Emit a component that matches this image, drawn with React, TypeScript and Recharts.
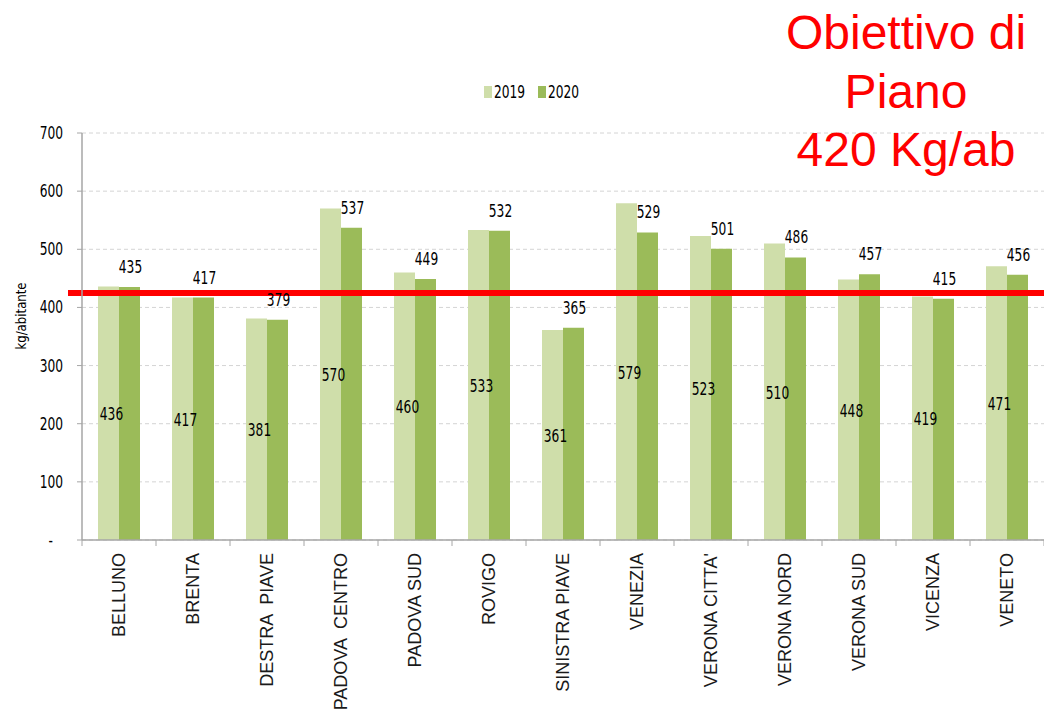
import { BarChart, Bar, XAxis, YAxis, CartesianGrid, Legend, LabelList, ReferenceLine } from "recharts";

const categories = [
  "BELLUNO",
  "BRENTA",
  "DESTRA  PIAVE",
  "PADOVA  CENTRO",
  "PADOVA SUD",
  "ROVIGO",
  "SINISTRA PIAVE",
  "VENEZIA",
  "VERONA CITTA'",
  "VERONA NORD",
  "VERONA SUD",
  "VICENZA",
  "VENETO",
];
const values2019 = [436, 417, 381, 570, 460, 533, 361, 579, 523, 510, 448, 419, 471];
const values2020 = [435, 417, 379, 537, 449, 532, 365, 529, 501, 486, 457, 415, 456];
const yTicks = [0, 100, 200, 300, 400, 500, 600, 700];
const target = 425;
const titleLines = ["Obiettivo di", "Piano", "420 Kg/ab"];

const series = [
  { key: "y2019", name: "2019", color: "#cfdeaa" },
  { key: "y2020", name: "2020", color: "#9bbb59" },
];

const data = categories.map((c, i) => ({ name: c, y2019: values2019[i], y2020: values2020[i] }));

const W = 1044;
const H = 712;
const AXIS_X = 82;
const BAND = (W - AXIS_X) / categories.length;
const ARIAL = "'Liberation Sans', Arial, sans-serif";

// Excel's narrow number font: DejaVu Sans squeezed horizontally
function NarrowText({ x, y, anchor = "middle", children }: any) {
  return (
    <text
      transform={`translate(${x},${y}) scale(0.72,1)`}
      textAnchor={anchor}
      fontFamily="'DejaVu Sans', sans-serif"
      fontSize={17}
      fill="#000"
    >
      {children}
    </text>
  );
}

function XTick({ x, y, payload, index }: any) {
  return (
    <g>
      {index === 0 && <line x1={x - BAND / 2} y1={y} x2={x - BAND / 2} y2={y + 6} stroke="#a6a6a6" />}
      <line x1={x + BAND / 2} y1={y} x2={x + BAND / 2} y2={y + 6} stroke="#a6a6a6" />
      <text
        x={0}
        y={0}
        transform={`translate(${x + 6},${y + 13}) rotate(-90)`}
        textAnchor="end"
        fontFamily={ARIAL}
        fontSize={18}
        fill="#1a1a1a"
        style={{ whiteSpace: "pre" }}
      >
        {payload.value}
      </text>
    </g>
  );
}

function YTick({ x, y, payload }: any) {
  const isZero = payload.value === 0;
  return (
    <NarrowText x={isZero ? x - 10 : x} y={y + 6} anchor="end">
      {isZero ? "-" : payload.value}
    </NarrowText>
  );
}

function Label2019(p: any) {
  return (
    <NarrowText x={p.x + p.width / 2 + 3} y={p.y + p.height / 2 + 7}>
      {p.value}
    </NarrowText>
  );
}

function Label2020(p: any) {
  return (
    <NarrowText x={p.x + p.width / 2 + 1} y={p.y - 14}>
      {p.value}
    </NarrowText>
  );
}

function LegendBox() {
  return (
    <svg width={100} height={20}>
      <rect x={0} y={4} width={8} height={12} fill={series[0].color} />
      <NarrowText x={10} y={16} anchor="start">
        {series[0].name}
      </NarrowText>
      <rect x={54} y={4} width={8} height={12} fill={series[1].color} />
      <NarrowText x={64} y={16} anchor="start">
        {series[1].name}
      </NarrowText>
    </svg>
  );
}

export default function App() {
  return (
    <div style={{ position: "relative", width: W, height: H, background: "#fff" }}>
      <style>{"body{margin:0}"}</style>
      <BarChart width={W} height={H} data={data} margin={{ top: 133, right: 0, left: 0, bottom: 0 }} barGap={0}>
        <CartesianGrid vertical={false} stroke="#d4d4d4" strokeDasharray="4 3" />
        <XAxis
          dataKey="name"
          interval={0}
          height={H - 540}
          tick={<XTick />}
          tickLine={false}
          tickSize={0}
          tickMargin={0}
          axisLine={{ stroke: "#a6a6a6", strokeWidth: 1.5 }}
        />
        <YAxis
          width={AXIS_X}
          domain={[0, 700]}
          ticks={yTicks}
          tick={<YTick />}
          tickSize={5}
          tickMargin={14}
          tickLine={{ stroke: "#a6a6a6" }}
          axisLine={{ stroke: "#a6a6a6", strokeWidth: 1.5 }}
          label={{
            content: () => (
              <text
                x={0}
                y={0}
                transform="translate(26,316) rotate(-90) scale(0.84,1)"
                textAnchor="middle"
                fontFamily="'DejaVu Sans', sans-serif"
                fontSize={14}
                fill="#000"
              >
                kg/abitante
              </text>
            ),
          }}
        />
        <Legend verticalAlign="middle" align="center" content={() => <LegendBox />} wrapperStyle={{ top: 82, left: 484, width: "auto", height: 20 }} />
        <Bar dataKey="y2019" name="2019" fill={series[0].color} barSize={21} isAnimationActive={false}>
          <LabelList dataKey="y2019" content={<Label2019 />} />
        </Bar>
        <Bar dataKey="y2020" name="2020" fill={series[1].color} barSize={21} isAnimationActive={false}>
          <LabelList dataKey="y2020" content={<Label2020 />} />
        </Bar>
        <ReferenceLine
          y={target}
          shape={(p: any) => <line x1={p.x1 - 14} y1={p.y1} x2={p.x2} y2={p.y2} stroke="#ff0000" strokeWidth={6} />}
        />
      </BarChart>
      <div
        style={{
          position: "absolute",
          top: 4,
          left: 906 - 200,
          width: 400,
          textAlign: "center",
          color: "#ff0000",
          fontFamily: ARIAL,
          fontSize: 48,
          lineHeight: "58.5px",
        }}
      >
        {titleLines.map((l) => (
          <div key={l}>{l}</div>
        ))}
      </div>
    </div>
  );
}
